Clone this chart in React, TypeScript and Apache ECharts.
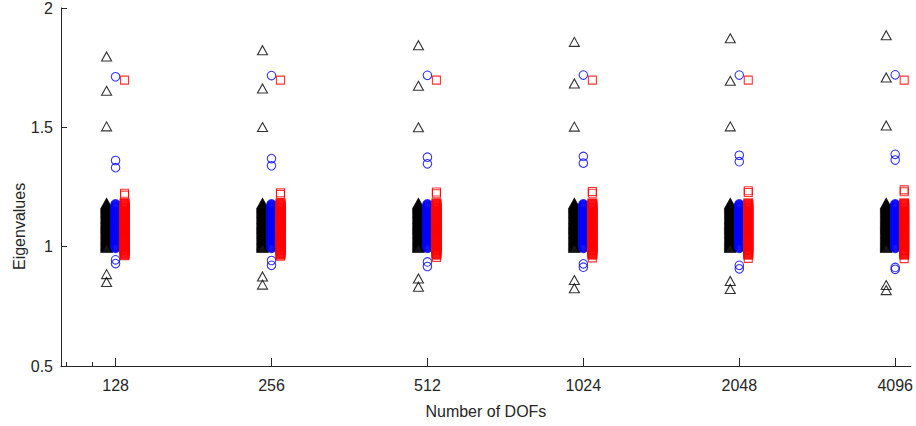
import React, { useEffect, useRef } from "react";
import * as echarts from "echarts";

// Category labels (number of DOFs)
const dofs = ["128", "256", "512", "1024", "2048", "4096"];

// Isolated eigenvalues per category
const triangleOutliers = [
  [1.797, 1.653, 1.504, 0.885, 0.852],
  [1.823, 1.663, 1.501, 0.875, 0.841],
  [1.844, 1.674, 1.5, 0.867, 0.832],
  [1.858, 1.684, 1.503, 0.86, 0.826],
  [1.873, 1.695, 1.504, 0.856, 0.823],
  [1.886, 1.709, 1.508, 0.839, 0.818],
];
const circleOutliers = [
  [1.712, 1.361, 1.331, 0.945, 0.929],
  [1.717, 1.369, 1.339, 0.942, 0.922],
  [1.718, 1.375, 1.347, 0.936, 0.917],
  [1.719, 1.378, 1.35, 0.928, 0.914],
  [1.719, 1.383, 1.356, 0.922, 0.907],
  [1.72, 1.387, 1.363, 0.913, 0.905],
];
const squareOutliers = [
  [1.698, 1.224, 1.216, 0.962],
  [1.698, 1.226, 1.219, 0.96],
  [1.698, 1.229, 1.222, 0.955],
  [1.698, 1.231, 1.224, 0.953],
  [1.698, 1.234, 1.227, 0.951],
  [1.698, 1.238, 1.23, 0.95],
];

// Densely packed eigenvalues (solid bands in the picture)
const triangleBand = [
  0.996, 1.0, 1.004, 1.008, 1.012, 1.016, 1.02, 1.024, 1.028, 1.032, 1.036, 1.04, 1.044, 1.048, 1.052, 1.056,
  1.06, 1.064, 1.068, 1.072, 1.076, 1.08, 1.084, 1.088, 1.092, 1.096, 1.1, 1.104, 1.108, 1.112, 1.116, 1.12,
  1.124, 1.128, 1.132, 1.136, 1.14, 1.144, 1.148, 1.152, 1.156, 1.16, 1.164, 1.168, 1.172, 1.176, 1.18,
];
const circleBand = [
  0.994, 0.998, 1.002, 1.006, 1.01, 1.014, 1.018, 1.022, 1.026, 1.03, 1.034, 1.038, 1.042, 1.046, 1.05, 1.054,
  1.058, 1.062, 1.066, 1.07, 1.074, 1.078, 1.082, 1.086, 1.09, 1.094, 1.098, 1.102, 1.106, 1.11, 1.114, 1.118,
  1.122, 1.126, 1.13, 1.134, 1.138, 1.142, 1.146, 1.15, 1.154, 1.158, 1.162, 1.166, 1.17, 1.174, 1.178,
];
const squareBand = [
  0.966, 0.97, 0.974, 0.978, 0.982, 0.986, 0.99, 0.994, 0.998, 1.002, 1.006, 1.01, 1.014, 1.018, 1.022, 1.026,
  1.03, 1.034, 1.038, 1.042, 1.046, 1.05, 1.054, 1.058, 1.062, 1.066, 1.07, 1.074, 1.078, 1.082, 1.086, 1.09,
  1.094, 1.098, 1.102, 1.106, 1.11, 1.114, 1.118, 1.122, 1.126, 1.13, 1.134, 1.138, 1.142, 1.146, 1.15, 1.154,
  1.158, 1.162, 1.166, 1.17, 1.174, 1.178, 1.182,
];

const yMin = 0.5;
const yMax = 2;
const yStep = 0.5;
const minorXTicks = [-0.318, -0.152];

const FONT = "'Liberation Sans', Arial, Helvetica, sans-serif";
const AXIS_COLOR = "#262626";

function outlierData(outliers: number[][]) {
  const out: number[][] = [];
  outliers.forEach((row, i) => row.forEach((v) => out.push([i, v])));
  return out;
}
function bandData(band: number[]) {
  const out: number[][] = [];
  dofs.forEach((_, i) => band.forEach((v) => out.push([i, v])));
  return out;
}

const hollow = (c: string, w: number) => ({ color: "rgba(0,0,0,0)", borderColor: c, borderWidth: w });

export default function App() {
  const ref = useRef<HTMLDivElement>(null);
  useEffect(() => {
    if (!ref.current) return;
    const chart = echarts.init(ref.current, undefined, { renderer: "svg" });
    const idx = dofs.map((_, i) => i);
    const mk = (symbol: string, size: any, offset: number, color: string, data: number[][], w: number) => ({
      type: "scatter",
      silent: true,
      symbol,
      symbolSize: size,
      symbolOffset: [offset, 0],
      itemStyle: hollow(color, w),
      data,
    });
    chart.setOption({
      animation: false,
      backgroundColor: "#fff",
      grid: { left: 61, right: 3, top: 7, bottom: 60, containLabel: false },
      graphic: [
        {
          type: "text",
          x: 19,
          y: 270,
          rotation: Math.PI / 2,
          style: {
            text: "Eigenvalues",
            fontSize: 16,
            fontFamily: FONT,
            fill: AXIS_COLOR,
            textAlign: "left",
            align: "left",
            textVerticalAlign: "middle",
            verticalAlign: "middle",
          },
        },
      ],
      xAxis: [
        {
          type: "value",
          min: -0.35,
          max: 5.1,
          axisLine: { show: true, onZero: false, lineStyle: { color: AXIS_COLOR, width: 1 } },
          axisTick: { show: true, inside: true, length: 8, customValues: idx, lineStyle: { color: AXIS_COLOR } },
          axisLabel: {
            customValues: idx,
            formatter: (v: number) => dofs[Math.round(v)],
            fontSize: 16,
            fontFamily: FONT,
            color: AXIS_COLOR,
            margin: 11,
          },
          splitLine: { show: false },
          name: "Number of DOFs",
          nameLocation: "middle",
          nameGap: 37,
          nameTextStyle: { fontSize: 16, fontFamily: FONT, color: AXIS_COLOR },
        },
        {
          type: "value",
          min: -0.35,
          max: 5.1,
          position: "bottom",
          axisLine: { show: false },
          axisTick: { show: true, inside: true, length: 4, customValues: minorXTicks, lineStyle: { color: AXIS_COLOR } },
          axisLabel: { show: false },
          splitLine: { show: false },
        },
      ],
      yAxis: {
        type: "value",
        min: yMin,
        max: yMax,
        interval: yStep,
        axisLine: { show: true, onZero: false, lineStyle: { color: AXIS_COLOR, width: 1 } },
        axisTick: { show: true, inside: true, length: 6, lineStyle: { color: AXIS_COLOR } },
        axisLabel: { fontSize: 16, fontFamily: FONT, color: AXIS_COLOR, margin: 8 },
        splitLine: { show: false },
      },
      series: [
        mk("triangle", [10, 9], -9, "#000000", bandData(triangleBand), 1.8),
        mk("triangle", [10, 9], -9, "#000000", outlierData(triangleOutliers), 1.1),
        mk("circle", 8.5, 0, "#0000ff", bandData(circleBand), 1.8),
        mk("circle", 8.5, 0, "#0000ff", outlierData(circleOutliers), 1.1),
        mk("rect", 8, 9, "#ff0000", bandData(squareBand), 1.8),
        mk("rect", 8, 9, "#ff0000", outlierData(squareOutliers), 1.1),
      ],
    });
    return () => chart.dispose();
  }, []);
  return (
    <div
      ref={ref}
      style={{ position: "fixed", left: 0, top: 0, width: 916, height: 426, background: "#fff" }}
    />
  );
}
